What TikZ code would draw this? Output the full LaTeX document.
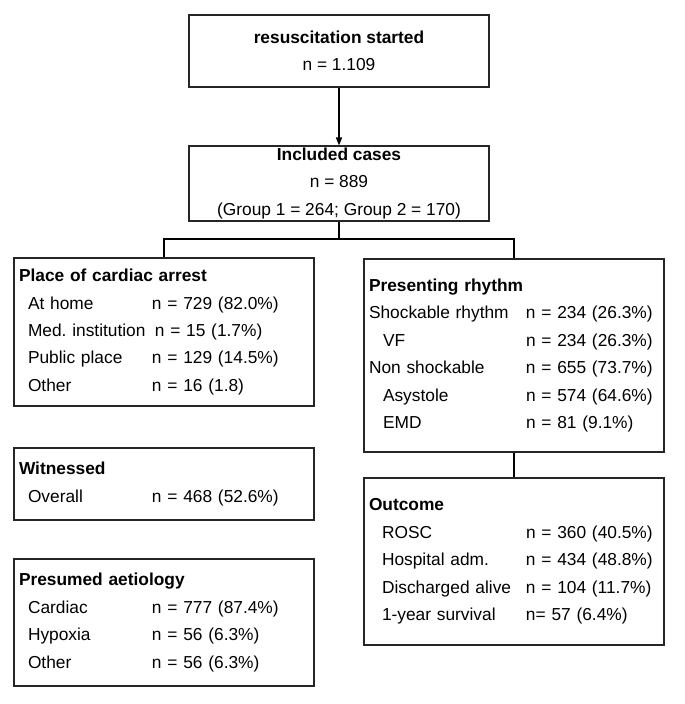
\documentclass[tikz,border=0pt]{standalone}
\usepackage{fontspec}
\setmainfont{Liberation Sans}
\usetikzlibrary{arrows.meta}
\newcommand{\statrow}[4]{\hspace*{#1}\makebox[#2][l]{#3}#4}
\tikzset{
  flowbox/.style={draw=black!85, line width=0.8pt, align=center, minimum width=225pt, inner sep=0pt},
  listbox/.style={draw=black!85, line width=0.8pt, align=left, text width=217.5pt, inner xsep=3.75pt, inner ysep=0pt},
  link/.style={draw=black, line width=1pt}
}
\begin{document}
\begin{tikzpicture}[x=0.75pt,y=-0.75pt,font=\fontsize{13}{20.6}\selectfont]
\useasboundingbox (0,0) rectangle (685,704);
% centre column
\node[flowbox, minimum height=54pt] (start) at (339,51) {\textbf{resuscitation started}\\n = 1.109};
\node[flowbox, minimum height=56.25pt] (incl) at (339,183.5) {\textbf{Included cases}\\n = 889\\(Group 1 = 264; Group 2 = 170)};
% left column
\node[listbox, minimum height=111pt] (place) at (164,332) {\textbf{Place of cardiac arrest}\\
\statrow{6.75pt}{93pt}{At home}{n = 729 (82.0\%)}\\
\statrow{6.75pt}{93pt}{Med.\ institution}{\,n = 15 (1.7\%)}\\
\statrow{6.75pt}{93pt}{Public place}{n = 129 (14.5\%)}\\
\statrow{6.75pt}{93pt}{Other}{n = 16 (1.8)}};
\node[listbox, minimum height=54pt] (wit) at (164,484) {\textbf{Witnessed}\\
\statrow{6.75pt}{93pt}{Overall}{n = 468 (52.6\%)}};
\node[listbox, minimum height=95.25pt] (aet) at (164,622.5) {\textbf{Presumed aetiology}\\
\statrow{6.75pt}{93pt}{Cardiac}{n = 777 (87.4\%)}\\
\statrow{6.75pt}{93pt}{Hypoxia}{n = 56 (6.3\%)}\\
\statrow{6.75pt}{93pt}{Other}{n = 56 (6.3\%)}};
% right column
\node[listbox, minimum height=144.75pt] (rhythm) at (514,355.5) {\textbf{Presenting rhythm}\\
\statrow{0pt}{117.75pt}{Shockable rhythm}{n = 234 (26.3\%)}\\
\statrow{10.5pt}{107.25pt}{VF}{n = 234 (26.3\%)}\\
\statrow{0pt}{117.75pt}{Non shockable}{n = 655 (73.7\%)}\\
\statrow{10.5pt}{107.25pt}{Asystole}{n = 574 (64.6\%)}\\
\statrow{10.5pt}{107.25pt}{EMD}{n = 81 (9.1\%)}};
\node[listbox, minimum height=125.25pt] (outc) at (514,561.5) {\textbf{Outcome}\\
\statrow{9.75pt}{108pt}{ROSC}{n = 360 (40.5\%)}\\
\statrow{9.75pt}{108pt}{Hospital adm.}{n = 434 (48.8\%)}\\
\statrow{9.75pt}{108pt}{Discharged alive}{n = 104 (11.7\%)}\\
\statrow{9.75pt}{108pt}{1-year survival}{n= 57 (6.4\%)}};
% connectors
\coordinate (split) at (339,239);
\draw[link, -{Triangle[length=6pt,width=4.5pt]}] (start) -- (incl);
\draw[link] (incl) -- (split);
\draw[link] (place.north) |- (split) -| (rhythm.north);
\draw[link] (rhythm) -- (outc);
\end{tikzpicture}
\end{document}
